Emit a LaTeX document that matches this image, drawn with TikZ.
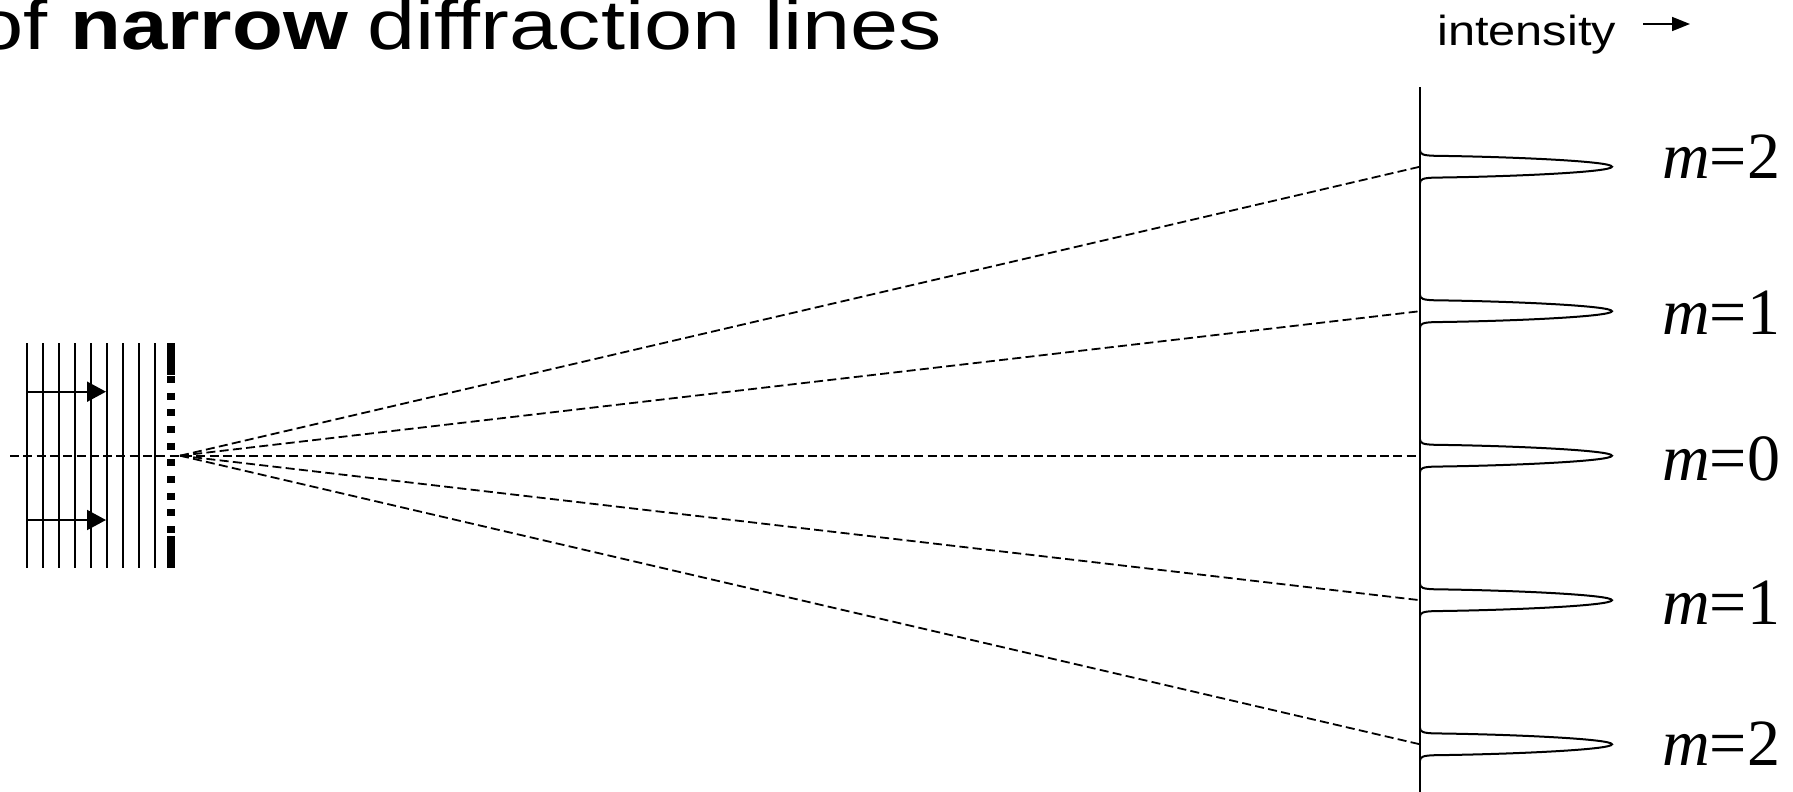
\documentclass[tikz,border=0pt]{standalone}
\usepackage{fontspec}
\usepackage{graphicx}
\setmainfont{Liberation Serif}
\newfontfamily\arialfont{Liberation Sans}
\usetikzlibrary{arrows.meta}
\tikzset{
  wave/.style={line width=2pt, line cap=butt},
  ray/.style={line width=1.8pt, dash pattern=on 9pt off 4.3pt},
  grat/.style={line width=8pt, line cap=butt},
  peakline/.style={line width=2pt},
  titletext/.style={inner sep=0pt, font=\arialfont\fontsize{70}{78}\selectfont},
  inttext/.style={inner sep=0pt, font=\arialfont\fontsize{42}{48}\selectfont},
  mlabel/.style={inner sep=0pt, anchor=base west, font=\fontsize{66}{72}\selectfont},
  peak/.pic={
    \draw[peakline] (0,-16.4) .. controls (0,-12.5) and (3,-11.2) .. (15,-10.9)
      .. controls (90,-10) and (192,-5.5) .. (192,0)
      .. controls (192,5.5) and (90,10) .. (15,10.9)
      .. controls (3,11.2) and (0,12.5) .. (0,16.4);
  }
}
\begin{document}
\begin{tikzpicture}[x=1pt,y=-1pt]
\fill[white] (0,0) rectangle (1793,792);
\useasboundingbox (0,0) rectangle (1793,792);
% title
\node[titletext, anchor=base east] (of) at (48,50) {\scalebox{1.24}[1]{of}};
\node[titletext, anchor=base west] (narrow) at (70,50) {\scalebox{1.19}[1]{\bfseries narrow}};
\node[titletext, anchor=base west] (diff) at (367,50) {\scalebox{1.235}[1]{diffraction lines}};
% intensity label
\node[inttext, anchor=base west] (int) at (1437,46) {\scalebox{1.16}[1]{intensity}};
\coordinate (ia) at (1643,24);
\coordinate (ib) at (1690,24);
\draw[line width=1.6pt, -{Triangle[length=18pt,width=14pt]}] (ia) -- (ib);
% incoming wave fronts
\foreach \i in {0,...,8}{
  \draw[wave] ({26.7+16.04*\i},343) -- ({26.7+16.04*\i},568);
}
\coordinate (a1s) at (26.7,391.7);
\coordinate (a1e) at (106,391.7);
\coordinate (a2s) at (26.7,520);
\coordinate (a2e) at (106,520);
\draw[wave, -{Triangle[length=19pt,width=20pt]}] (a1s) -- (a1e);
\draw[wave, -{Triangle[length=19pt,width=20pt]}] (a2s) -- (a2e);
% grating
\draw[grat] (171,343) -- (171,375);
\draw[grat, dash pattern=on 7pt off 9.67pt] (171,376) -- (171,533.5);
\draw[grat] (171,536) -- (171,568);
% screen
\coordinate (scrtop) at (1420,87);
\coordinate (scrbot) at (1420,792);
\draw[line width=2pt] (scrtop) -- (scrbot);
% peak positions
\coordinate (src) at (180,455.7);
\coordinate (axs) at (10,455.7);
\coordinate (p2u) at (1420,166.7);
\coordinate (p1u) at (1420,311.2);
\coordinate (p0) at (1420,455.7);
\coordinate (p1d) at (1420,600.2);
\coordinate (p2d) at (1420,744.3);
% rays
\draw[ray] (axs) -- (p0);
\draw[ray] (src) -- (p2u);
\draw[ray] (src) -- (p1u);
\draw[ray] (src) -- (p1d);
\draw[ray] (src) -- (p2d);
% peaks
\foreach \p in {p2u,p1u,p0,p1d,p2d}{
  \pic at (\p) {peak};
}
% labels
\node[mlabel] (l2u) at (1662,178) {\textit{m}=2};
\node[mlabel] (l1u) at (1662,334) {\textit{m}=1};
\node[mlabel] (l0) at (1662,480) {\textit{m}=0};
\node[mlabel] (l1d) at (1662,624) {\textit{m}=1};
\node[mlabel] (l2d) at (1662,765) {\textit{m}=2};
\end{tikzpicture}
\end{document}
